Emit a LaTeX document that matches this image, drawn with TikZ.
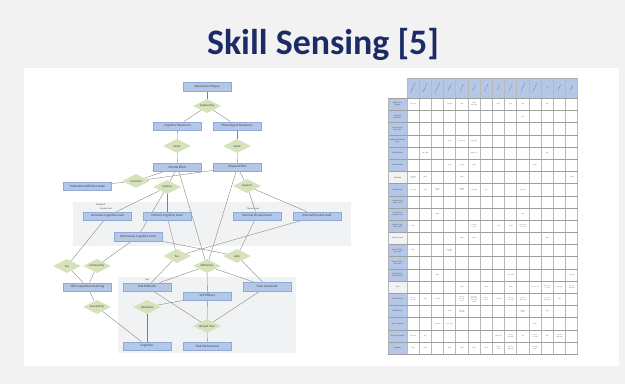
\documentclass[tikz,border=0pt]{standalone}
\usepackage{fontspec}
\setmainfont{Carlito}
\usepackage{xcolor}
\definecolor{slideGray}{HTML}{F2F2F2}
\definecolor{titleBlue}{HTML}{1B2B66}
\definecolor{erBlue}{HTML}{B4C7E7}
\definecolor{erBlueLine}{HTML}{8EAADB}
\definecolor{erGreen}{HTML}{D6E3BA}
\definecolor{erPanel}{HTML}{F1F2F4}
\definecolor{erLine}{HTML}{7F7F7F}
\usepackage{tikz}
\usetikzlibrary{er,shapes.geometric,backgrounds}
\tikzset{every entity/.style={draw=erBlueLine, fill=erBlue, line width=0.3pt, minimum width=48bp, minimum height=8.5bp, inner sep=0pt, font=\fontsize{3.3}{4}\selectfont, text=black!75}}
\tikzset{every relationship/.style={draw=none, fill=erGreen, aspect=2, minimum width=28bp, minimum height=14bp, inner sep=0pt, font=\fontsize{3}{3.5}\selectfont, text=black!75}}
\tikzset{link/.style={draw=erLine, line width=0.35pt}}
\tikzset{panel/.style={fill=erPanel, draw=none}}
\tikzset{panel label/.style={font=\fontsize{2.3}{2.8}\selectfont, text=black!70, inner sep=0pt}}
\tikzset{row head/.style={font=\fontsize{1.9}{2.2}\selectfont, text=black!70, align=center, text width=17bp, inner sep=0pt}}
\tikzset{col head/.style={font=\fontsize{1.4}{1.6}\selectfont, text=black!70, rotate=65, inner sep=0pt}}
\tikzset{cell text/.style={font=\fontsize{1.5}{1.8}\selectfont, text=black!70, align=center, text width=11bp, inner sep=0pt}}

\begin{document}
\begin{tikzpicture}[x=1bp, y=-1bp]
\useasboundingbox (0,0) rectangle (625,384);
\node[font=\fontsize{36}{40}\selectfont\bfseries, text=titleBlue, anchor=base] (title) at (323,54) {Skill Sensing [5]};

%--------------------
% resources and effort
%--------------------
\node[entity](fatigue) at (207,86.5) {Weariness/Fatigue};
\node[relationship](depleted) at (207,106) {depleted by};
\node[entity](cogres) at (177.5,126) {Cognitive Resources};
\node[entity](physres) at (237,126) {Physiological Resources};
\node[relationship](needsc) at (177,146) {needs};
\node[relationship](needsp) at (237,146) {needs};
\node[entity](menteff) at (177.5,167) {Mental Effort};
\node[entity](physeff) at (237.5,167) {Physical Effort};
\node[entity](motiv) at (87.5,186) {Motivation/Affective State};
\node[relationship](canblock) at (136,181) {can block};
\node[relationship](reqm) at (167,187) {requires};
\node[relationship](reqp) at (247,186) {requires};

%--------------------
% workload
%--------------------
\node[entity](germane) at (107.5,216) {Germane Cognitive Load};
\node[entity](intrinsic) at (167,216) {Intrinsic Cognitive Load};
\node[entity](extraneous) at (138,236.5) {Extraneous Cognitive Load};
\node[entity](external) at (257,216) {External Physical Load};
\node[entity](internal) at (317,216) {Internal Physical Load};

%--------------------
% skill and task
%--------------------
\node[relationship](hasskill) at (67,266) {has};
\node[relationship](hindered) at (97,266) {hindered by};
\node[relationship](hastask) at (177,256) {has};
\node[relationship](defined) at (207,266) {defined by};
\node[relationship](adds) at (237,256) {adds};
\node[entity](skill) at (87.5,287) {Skill Acquisition/Learning};
\node[entity](taskdiff) at (147,287) {Task Difficulty};
\node[entity](selfeff) at (207.5,296) {Self Efficacy};
\node[entity](timecon) at (267,286.5) {Time Constraint};
\node[relationship](acquired) at (97,307) {acquired by};
\node[relationship](stimulates) at (147,307) {stimulates};
\node[relationship](derived) at (207,326) {derived from};
\node[entity](cognition) at (147,346) {Cognition};
\node[entity](taskperf) at (207.5,346) {Task Performance};

\begin{scope}[on background layer]
\fill[slideGray] (0,0) rectangle (625,384);
\fill[white] (24,68) rectangle (619,366);
\fill[panel] (73,202) rectangle (351,246);
\fill[panel] (118,277) rectangle (296,353);
\node[panel label, anchor=west] (workloadlbl) at (96,204.5) {Workload};
\node[panel label, anchor=west] (mentallbl) at (100,209) {Mental Load};
\node[panel label] (physlbl) at (253,209) {Physical Load};
\node[panel label] (tasklbl) at (147,280) {Task};
\foreach \a/\b in {fatigue/depleted, depleted/cogres, depleted/physres,
  cogres/needsc, needsc/menteff, physres/needsp, needsp/physeff,
  motiv/canblock, canblock/menteff, canblock/physeff,
  menteff/reqm, reqm/germane, reqm/intrinsic, reqm/extraneous,
  physeff/reqp, reqp/external, reqp/internal,
  menteff/defined, physeff/defined,
  germane/hasskill, extraneous/hindered, hasskill/skill, hindered/skill,
  skill/acquired, acquired/cognition,
  intrinsic/hastask, internal/hastask, hastask/taskdiff,
  extraneous/adds, external/adds, adds/timecon,
  defined/taskdiff, defined/selfeff, defined/timecon,
  stimulates/selfeff, stimulates/cognition,
  taskdiff/derived, selfeff/derived, timecon/derived, derived/taskperf}
  \draw[link] (\a) -- (\b);
\end{scope}

%--------------------
% literature table
%--------------------
\fill[erBlue] (407,78) rectangle (577.8,98.3);
\foreach \r/\name/\shade in {1/{Weariness/\\Fatigue}/erBlue, 2/{Cognitive\\Resources}/erBlue,
  3/{Physiological\\Resources}/erBlue, 4/{Motivation/Affective\\State}/erBlue,
  5/{Mental Effort}/erBlue, 6/{Physical Effort}/erBlue, 7/{Workload}/slideGray,
  8/{Mental Load}/erBlue, 9/{Germane Cog-\\nitive Load}/erBlue, 10/{Extraneous\\Cognitive Load}/erBlue,
  11/{Intrinsic Cog-\\nitive Load}/erBlue, 12/{Physical Load}/slideGray, 13/{Internal Phys-\\ical Load}/erBlue,
  14/{External Phys-\\ical Load}/erBlue, 15/{Skill Acquisi-\\tion/Learning}/erBlue, 16/{Task}/slideGray,
  17/{Task Difficulty}/erBlue, 18/{Skill Efficacy}/erBlue, 19/{Time Constraint}/erBlue,
  20/{Task Performance}/erBlue, 21/{Cognition}/erBlue}
{
  \fill[\shade] (388,{98.3+12.18*(\r-1)}) rectangle (407,{98.3+12.18*\r});
  \node[row head] (row\r) at (397.5,{98.3+12.18*(\r-0.5)}) {\name};
}
\foreach \c/\name in {1/{Cognitive Resources}, 2/{Physiological Res.}, 3/{Motivation/Affective},
  4/{Mental Effort}, 5/{Physical Effort}, 6/{Mental Load}, 7/{Germane Load}, 8/{Extraneous},
  9/{Intrinsic Load}, 10/{Internal Physical}, 11/{External Physical}, 12/{Task}, 13/{Self Efficacy}, 14/{Cognition}}
  \node[col head] (col\c) at ({407+12.2*(\c-0.5)},88) {\name};
\foreach \c in {0,...,14}
  \draw[gray!55, line width=0.9pt] ({407+12.2*\c},78) -- ({407+12.2*\c},354.1);
\draw[gray!60, line width=0.4pt] (407,78) -- (577.8,78);
\foreach \r in {0,...,21}
  \draw[gray!75, line width=0.35pt] (388,{98.3+12.18*\r}) -- (577.8,{98.3+12.18*\r});
\draw[gray!60, line width=0.4pt] (388,98.3) -- (388,354.1);
\foreach \c/\r/\t in {1/1/{[21, 116]}, 4/1/{[40, 98]}, 5/1/{[63]}, 6/1/{[106,\\108, 116]}, 8/1/{[111]}, 9/1/{[63]}, 10/1/{[63]}, 12/1/{[99]},
  10/2/{[71]},
  4/4/{[110]}, 5/4/{[112, 211]}, 6/4/{[76, 116]},
  2/5/{[22, 108]}, 6/5/{[108, 117]}, 12/5/{[99]},
  4/6/{[110]}, 5/6/{[4, 207]}, 6/6/{[105]}, 11/6/{[106]},
  1/7/{[35, 108,\\165]}, 2/7/{[201]}, 5/7/{[201]}, 14/7/{[163]},
  1/8/{[75, 116]}, 2/8/{[136]}, 3/8/{[74, 88,\\165]}, 5/8/{[40, 88,\\101]}, 6/8/{[40, 136]}, 7/8/{[8]}, 10/8/{[73, 112]},
  3/10/{[186]}, 10/10/{[63]},
  1/11/{[199]}, 6/11/{[26, 112,\\116]}, 8/11/{[95]}, 9/11/{[116]}, 10/11/{[32, 39, 63,\\71, 120]},
  5/12/{[201]}, 6/12/{[110]}, 12/12/{[68]},
  1/13/{[118]}, 4/13/{[95, 120,\\199]},
  3/15/{[106]}, 9/15/{[61, 106]}, 14/15/{[21, 99]},
  5/16/{[186]}, 7/16/{[106]}, 9/16/{[106]}, 11/16/{[11, 61, 71]}, 12/16/{[32, 61, 71,\\75, 120]}, 13/16/{[32, 106]}, 14/16/{[61, 71,\\106, 120]},
  1/17/{[21, 61,\\71, 120]}, 2/17/{[106]}, 3/17/{[71, 106]}, 5/17/{[32, 71,\\75, 106,\\111]}, 6/17/{[11, 21,\\61, 71, 99,\\106, 118,\\120]}, 7/17/{[63, 71,\\201]}, 8/17/{[11, 106]}, 9/17/{[21, 61,\\71, 116]}, 10/17/{[61, 71,\\106, 120]}, 12/17/{[71, 61,\\106, 120]}, 13/17/{[99]},
  4/18/{[110]}, 5/18/{[21, 61,\\71, 118]}, 10/18/{[61, 71,\\120]}, 12/18/{[120]},
  3/19/{[71, 101]}, 4/19/{[61, 106]}, 11/19/{[99]},
  1/20/{[21, 116]}, 2/20/{[16]}, 8/20/{[106, 116]}, 9/20/{[11, 61,\\106, 116]}, 10/20/{[71]}, 11/20/{[32, 61,\\71, 120]}, 12/20/{[99]}, 13/20/{[11, 61,\\106, 120]},
  1/21/{[106]}, 2/21/{[108]}, 4/21/{[106]}, 5/21/{[106]}, 6/21/{[121]}, 7/21/{[106]}, 8/21/{[11, 61,\\106]}, 9/21/{[61, 71,\\106, 116]}, 11/21/{[61, 106,\\120]}}
  \node[cell text] (cell\c-\r) at ({407+12.2*(\c-0.5)},{98.3+12.18*(\r-0.5)}) {\t};
\end{tikzpicture}
\end{document}
